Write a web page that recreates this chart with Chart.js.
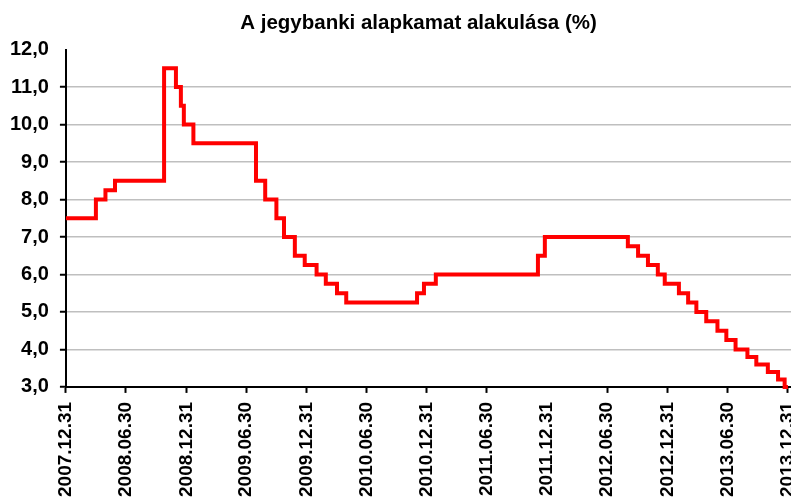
<!DOCTYPE html>
<html>
<head>
<meta charset="utf-8">
<script src="https://cdn.jsdelivr.net/npm/chart.js@4.4.1/dist/chart.umd.min.js"></script>
<style>
  html, body { margin: 0; padding: 0; background: #fff; overflow: hidden; }
  #wrap { position: relative; width: 840px; height: 497px; }
</style>
</head>
<body>
<div id="wrap"><canvas id="rateChart"></canvas></div>
<script>
// ── Data ──
const changeDates = [
  '2007.12.31', '2008.03.31', '2008.04.29', '2008.05.28', '2008.10.24', '2008.11.29',
  '2008.12.14', '2008.12.23', '2009.01.21', '2009.07.30', '2009.08.27', '2009.09.30',
  '2009.10.23', '2009.11.25', '2009.12.25', '2010.01.30', '2010.02.27', '2010.04.02',
  '2010.04.30', '2010.12.01', '2010.12.22', '2011.01.27', '2011.12.03', '2011.12.24',
  '2012.09.01', '2012.10.02', '2012.11.01', '2012.12.01', '2012.12.22', '2013.02.03',
  '2013.03.03', '2013.03.28', '2013.04.27', '2013.05.31', '2013.06.27', '2013.07.25',
  '2013.08.30', '2013.09.26', '2013.10.31', '2013.12.01', '2013.12.21', '2013.12.31'
];
const baseRates = [
  7.5, 8.0, 8.25, 8.5, 11.5, 11.0,
  10.5, 10.0, 9.5, 8.5, 8.0, 7.5,
  7.0, 6.5, 6.25, 6.0, 5.75, 5.5,
  5.25, 5.5, 5.75, 6.0, 6.5, 7.0,
  6.75, 6.5, 6.25, 6.0, 5.75, 5.5,
  5.25, 5.0, 4.75, 4.5, 4.25, 4.0,
  3.8, 3.6, 3.4, 3.2, 3.0, 3.0
];
const tickLabels = [
  '2007.12.31', '2008.06.30', '2008.12.31', '2009.06.30', '2009.12.31', '2010.06.30',
  '2010.12.31', '2011.06.30', '2011.12.31', '2012.06.30', '2012.12.31', '2013.06.30',
  '2013.12.31'
];
const yTicks = [3, 4, 5, 6, 7, 8, 9, 10, 11, 12];

// days since the first date
const toDay = s => {
  const [y, m, d] = s.split('.').map(Number);
  return (Date.UTC(y, m - 1, d) - Date.UTC(2007, 11, 31)) / 86400000;
};
const tickDays = tickLabels.map(toDay);

const FONT = "'Liberation Sans', Arial, sans-serif";

new Chart(document.getElementById('rateChart'), {
  type: 'line',
  data: {
    datasets: [{
      label: 'Alapkamat',
      data: changeDates.map((d, i) => ({ x: toDay(d), y: baseRates[i] })),
      borderColor: '#ff0000',
      borderWidth: 4,
      stepped: true,
      pointRadius: 0,
      fill: false,
      clip: 6
    }]
  },
  options: {
    responsive: true,
    maintainAspectRatio: false,
    animation: false,
    layout: { padding: { left: -1, right: 2, top: 2, bottom: -9 } },
    plugins: {
      legend: { display: false },
      tooltip: { enabled: false },
      title: {
        display: true,
        text: 'A jegybanki alapkamat alakulása (%)',
        color: '#000',
        font: { family: FONT, size: 20.5, weight: 'bold' },
        padding: { top: 9, bottom: 14 }
      }
    },
    scales: {
      x: {
        type: 'linear',
        min: 0,
        // axis runs on past the last date; the picture is cropped at the right
        max: 2344,
        afterBuildTicks: scale => { scale.ticks = tickDays.map(v => ({ value: v })); },
        grid: {
          drawOnChartArea: false,
          drawTicks: true,
          tickLength: 6,
          tickWidth: 2,
          tickColor: ctx => ctx.index === 8 ? 'rgba(0,0,0,0)' : '#000'
        },
        border: { color: '#000', width: 2 },
        ticks: {
          autoSkip: false,
          maxRotation: 90,
          minRotation: 90,
          padding: 9,
          color: '#000',
          font: { family: FONT, size: 19, weight: 'bold' },
          callback: (v, i) => tickLabels[i]
        }
      },
      y: {
        min: 3,
        max: 12,
        afterBuildTicks: scale => { scale.ticks = yTicks.map(v => ({ value: v })); },
        grid: {
          color: ctx => ctx.tick && ctx.tick.value === 12 ? 'rgba(0,0,0,0)' : '#bfbfbf',
          lineWidth: 1.5,
          drawTicks: true,
          tickLength: 6,
          tickWidth: 2,
          tickColor: ctx => ctx.tick && ctx.tick.value === 12 ? 'rgba(0,0,0,0)' : '#000'
        },
        border: { color: '#000', width: 2 },
        ticks: {
          padding: 11,
          color: '#000',
          font: { family: FONT, size: 20, weight: 'bold' },
          callback: v => v.toFixed(1).replace('.', ',')
        }
      }
    }
  }
});
</script>
</body>
</html>
